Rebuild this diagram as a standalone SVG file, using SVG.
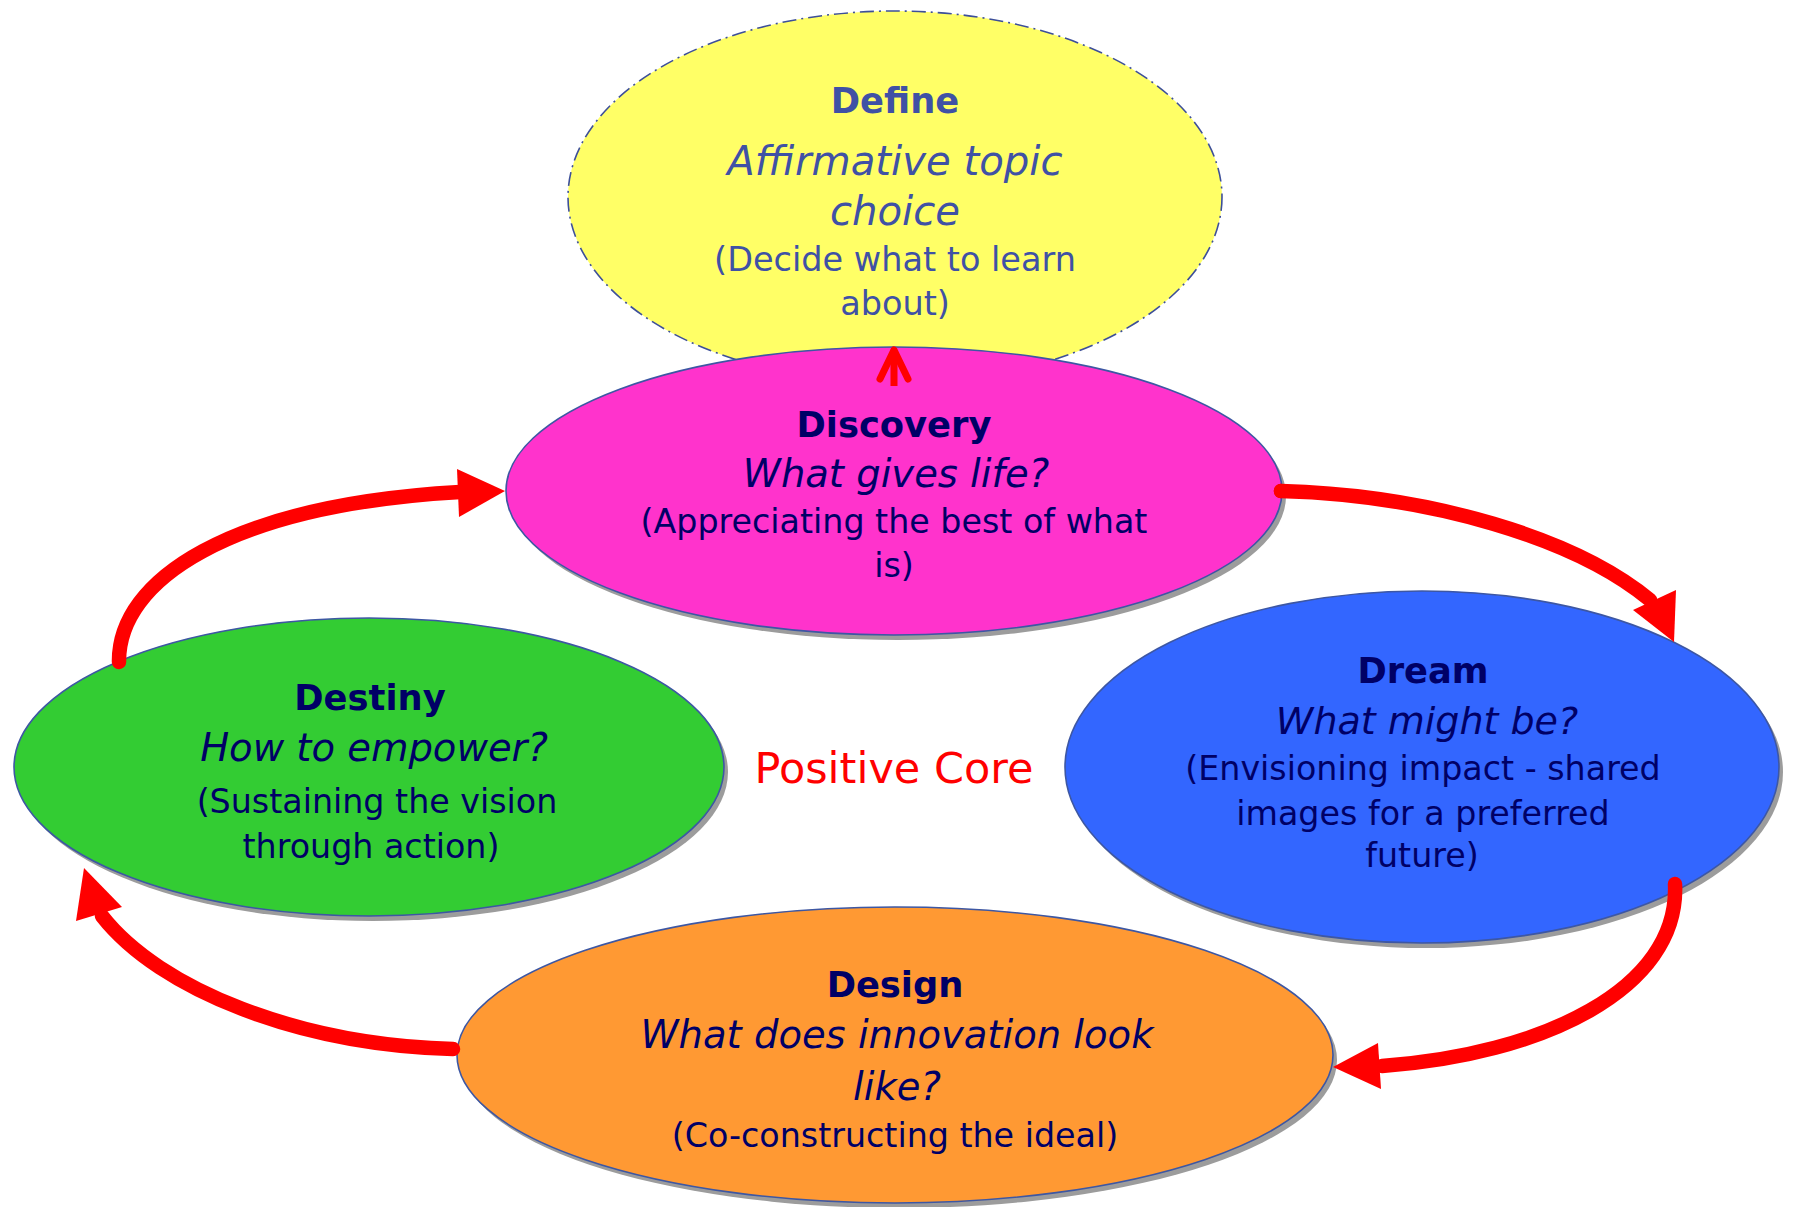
<svg xmlns="http://www.w3.org/2000/svg" width="1795" height="1207" viewBox="0 0 1795 1207">
  <style>
    text { font-family: "DejaVu Sans", "Liberation Sans", sans-serif; text-anchor: middle; }
    .t { font-weight: bold; font-size: 35.3px; fill: #000066; }
    .q { font-style: italic; font-size: 38.5px; fill: #000066; }
    .s { font-size: 33.3px; fill: #000066; }
    .def text { fill: #3F51A5; }
    .shadow { fill: #9C9C9C; }
    .oval { stroke: #3D57A3; stroke-width: 1.6; }
    .flow { fill: none; stroke: #FF0000; stroke-width: 14.5; stroke-linecap: round; }
    .head { fill: #FF0000; }
  </style>

  <rect width="1795" height="1207" fill="#FFFFFF"/>

  <!-- Define -->
  <g id="define" class="def">
    <ellipse cx="895" cy="197" rx="327" ry="186" fill="#FFFF66" stroke="#3D4F99" stroke-width="1.6" stroke-dasharray="14 5 2 5"/>
    <text class="t" x="895" y="113">Define</text>
    <text class="q" x="895" y="175" style="font-size:40.2px">Affirmative topic</text>
    <text class="q" x="895" y="225" style="font-size:40.2px">choice</text>
    <text class="s" x="895" y="271" style="font-size:33.5px">(Decide what to learn</text>
    <text class="s" x="895" y="315" style="font-size:33.5px">about)</text>
  </g>

  <!-- Discovery -->
  <g id="discovery">
    <ellipse class="shadow" cx="898" cy="496" rx="388" ry="144"/>
    <ellipse class="oval" cx="894" cy="491" rx="388" ry="144" fill="#FF33CC"/>
    <text class="t" x="894" y="437">Discovery</text>
    <text class="q" x="896" y="487">What gives life?</text>
    <text class="s" x="894" y="533">(Appreciating the best of what</text>
    <text class="s" x="894" y="577">is)</text>
  </g>

  <!-- Dream -->
  <g id="dream">
    <ellipse class="shadow" cx="1426" cy="772" rx="357" ry="176"/>
    <ellipse class="oval" cx="1422" cy="767" rx="357" ry="176" fill="#3366FF"/>
    <text class="t" x="1423" y="683">Dream</text>
    <text class="q" x="1427" y="734" style="font-size:38px">What might be?</text>
    <text class="s" x="1423" y="780">(Envisioning impact - shared</text>
    <text class="s" x="1423" y="825">images for a preferred</text>
    <text class="s" x="1422" y="867">future)</text>
  </g>

  <!-- Design -->
  <g id="design">
    <ellipse class="shadow" cx="899" cy="1060" rx="438" ry="148"/>
    <ellipse class="oval" cx="895" cy="1055" rx="438" ry="148" fill="#FF9933"/>
    <text class="t" x="895" y="997">Design</text>
    <text class="q" x="897" y="1048">What does innovation look</text>
    <text class="q" x="897" y="1100">like?</text>
    <text class="s" x="895" y="1147">(Co-constructing the ideal)</text>
  </g>

  <!-- Destiny -->
  <g id="destiny">
    <ellipse class="shadow" cx="373" cy="772" rx="355" ry="149"/>
    <ellipse class="oval" cx="369" cy="767" rx="355" ry="149" fill="#33CC33"/>
    <text class="t" x="370" y="710">Destiny</text>
    <text class="q" x="374" y="761">How to empower?</text>
    <text class="s" x="377" y="813">(Sustaining the vision</text>
    <text class="s" x="371" y="858">through action)</text>
  </g>

  <!-- Centre label -->
  <g id="positive-core">
    <text x="894" y="783" style="font-size:43px; fill:#FF0000">Positive Core</text>
  </g>

  <!-- Cycle arrows -->
  <g id="connectors">
    <!-- Destiny to Discovery -->
    <path class="flow" d="M119,662 C118,580 230,505 460,492"/>
    <polygon class="head" points="505,491 457,469 459,517"/>
    <!-- Discovery to Dream -->
    <path class="flow" d="M1281,491 C1430,495 1575,538 1650,600" stroke-linecap="butt"/>
    <circle cx="1281" cy="491" r="7.25" fill="#FF0000"/>
    <polygon class="head" points="1674,642 1676,590 1633,610"/>
    <!-- Dream to Design -->
    <path class="flow" d="M1675,884 C1680,990 1540,1055 1382,1066"/>
    <polygon class="head" points="1333,1067 1378,1043 1381,1089"/>
    <!-- Design to Destiny -->
    <path class="flow" d="M453,1049 C300,1045 160,990 102,916"/>
    <polygon class="head" points="84,868 76,921 122,907"/>
    <!-- Discovery to Define -->
    <path d="M894,352 L894,386" stroke="#FF0000" stroke-width="7" fill="none"/>
    <path d="M880,379 L894,350 L908,379" stroke="#FF0000" stroke-width="7" fill="none" stroke-linecap="round" stroke-linejoin="round"/>
  </g>
</svg>
